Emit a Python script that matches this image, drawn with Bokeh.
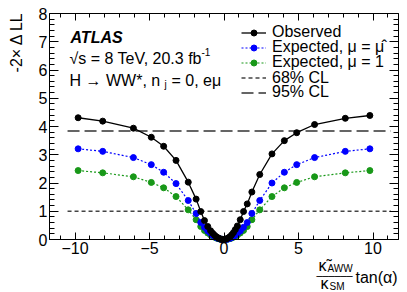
import math
from bokeh.plotting import figure
from bokeh.models import FixedTicker, LinearAxis, Label, Legend, LegendItem, Range1d
from bokeh.embed import file_html
from bokeh.resources import INLINE

# ---------------- data ----------------
x_grid = [-9.79, -8.14, -6.08, -4.88, -4.05, -3.22, -2.40, -1.87, -1.56, -1.31, -1.09,
          -0.90, -0.76, -0.63, -0.51, -0.40, -0.30, -0.20, -0.10, 0.0,
          0.10, 0.20, 0.30, 0.40, 0.51, 0.63, 0.76, 0.90,
          1.09, 1.31, 1.56, 1.87, 2.40, 3.22, 4.05, 4.88, 6.08, 8.14, 9.79]
observed = [4.31, 4.19, 3.94, 3.62, 3.30, 2.80, 2.03, 1.43, 0.99, 0.67, 0.46,
            0.31, 0.22, 0.15, 0.095, 0.06, 0.03, 0.012, 0.003, 0.0,
            0.008, 0.03, 0.06, 0.10, 0.16, 0.24, 0.35, 0.48,
            0.70, 0.99, 1.26, 1.68, 2.30, 3.03, 3.50, 3.78, 4.07, 4.29, 4.39]
expected_muhat = [3.21, 3.12, 2.90, 2.65, 2.38, 1.98, 1.38, 0.92, 0.60, 0.43, 0.30,
                  0.21, 0.15, 0.10, 0.068, 0.042, 0.024, 0.011, 0.003, 0.0,
                  0.003, 0.011, 0.024, 0.042, 0.068, 0.10, 0.15, 0.21,
                  0.30, 0.43, 0.60, 0.92, 1.38, 2.00, 2.38, 2.65, 2.90, 3.12, 3.21]
expected_mu1 = [2.44, 2.36, 2.22, 2.02, 1.83, 1.52, 1.05, 0.70, 0.46, 0.32, 0.23,
                0.16, 0.115, 0.08, 0.05, 0.03, 0.018, 0.008, 0.002, 0.0,
                0.002, 0.008, 0.018, 0.03, 0.05, 0.08, 0.115, 0.16,
                0.23, 0.32, 0.46, 0.70, 1.05, 1.52, 1.83, 2.02, 2.22, 2.36, 2.44]
cl_x = [-10.5, 11.2]
cl68_y = [1.0, 1.0]
cl95_y = [3.84, 3.84]

x_ticks = [-10, -5, 0, 5, 10]
x_tick_labels = ["\u221210", "\u22125", "0", "5", "10"]
x_minor = list(range(-11, 12))
y_ticks = [0, 1, 2, 3, 4, 5, 6, 7, 8]
y_tick_labels = [str(t) for t in y_ticks]
y_minor = [i / 5 for i in range(0, 41)]

# ---------------- geometry ----------------
W, H = 407, 292
PX0, SX = 223.5, 14.9      # page px of x=0, px per unit
PY0, SY = 239.0, 28.25     # page px of y=0, px per unit
XB0, XB1, YB0, YB1 = -11.71, 11.71, 0.0, 8.0   # plot box

def X(px):
    return (px - PX0) / SX

def Y(py):
    return (PY0 - py) / SY

FONT = "Liberation Sans"
FS = 16

p = figure(width=W, height=H, output_backend="svg", toolbar_location=None,
           x_range=Range1d(X(0), X(W)), y_range=Range1d(Y(H), Y(0)),
           min_border=0, min_border_left=0, min_border_right=0,
           min_border_top=0, min_border_bottom=0)
p.xgrid.visible = False
p.ygrid.visible = False
p.outline_line_color = None
p.background_fill_color = "white"
p.border_fill_color = "white"

def style_axis(ax, major_len, minor_len, ticks, labels):
    ax.axis_line_color = "black"
    ax.axis_line_width = 1
    ax.major_tick_line_color = "black"
    ax.minor_tick_line_color = "black"
    ax.major_tick_in = major_len
    ax.major_tick_out = 0
    ax.minor_tick_in = minor_len
    ax.minor_tick_out = 0
    ax.major_label_text_font = FONT
    ax.major_label_text_color = "black"
    ax.major_label_text_font_size = f"{FS}px"
    ax.major_label_standoff = 2
    ax.major_label_overrides = {t: l for t, l in zip(ticks, labels)}

bottom = p.xaxis[0]
bottom.ticker = FixedTicker(ticks=x_ticks, minor_ticks=x_minor)
bottom.fixed_location = YB0
bottom.bounds = (XB0, XB1)
style_axis(bottom, 7, 4, x_ticks, x_tick_labels)

left = p.yaxis[0]
left.ticker = FixedTicker(ticks=y_ticks, minor_ticks=y_minor)
left.fixed_location = XB0
left.bounds = (YB0, YB1)
style_axis(left, 9, 5, y_ticks, y_tick_labels)

top = LinearAxis(ticker=FixedTicker(ticks=x_ticks, minor_ticks=x_minor),
                 fixed_location=YB1, bounds=(XB0, XB1))
style_axis(top, 7, 4, x_ticks, [""] * len(x_ticks))
p.add_layout(top, "above")
right = LinearAxis(ticker=FixedTicker(ticks=y_ticks, minor_ticks=y_minor),
                   fixed_location=XB1, bounds=(YB0, YB1))
style_axis(right, 9, 5, y_ticks, [""] * len(y_ticks))
p.add_layout(right, "right")

# ---------------- curves ----------------
r68 = p.line(cl_x, cl68_y, line_color="#444444", line_width=1.3, line_dash="4 3")
r95 = p.line(cl_x, cl95_y, line_color="#333333", line_width=1.5, line_dash="12 5")

GREEN = "#189818"
BLUE = "#0000ff"
MS = 6
rg_l = p.line(x_grid, expected_mu1, line_color=GREEN, line_width=1.2, line_dash="2 2")
rg_p = p.scatter(x_grid, expected_mu1, size=MS, fill_color=GREEN, line_color=GREEN)
rb_l = p.line(x_grid, expected_muhat, line_color=BLUE, line_width=1.2, line_dash="2 2")
rb_p = p.scatter(x_grid, expected_muhat, size=MS, fill_color=BLUE, line_color=BLUE)
ro_l = p.line(x_grid, observed, line_color="black", line_width=1.3)
ro_p = p.scatter(x_grid, observed, size=MS, fill_color="black", line_color="black")

# ---------------- legend (one row per Legend for exact spacing) ----------------
entries = [
    ("Observed", [ro_l, ro_p], 30),
    ("Expected, \u03bc = \u03bc\u0302", [rb_l, rb_p], 45),
    ("Expected, \u03bc = 1", [rg_l, rg_p], 60),
    ("68% CL", [r68], 75.5),
    ("95% CL", [r95], 90),
]
ROW = 15
LEG_H = 18.5   # rendered height of one legend row (text height dominates)
for lab, rends, cy in entries:
    lg = Legend(items=[LegendItem(label=lab, renderers=rends)])
    lg.label_text_font = FONT
    lg.label_text_font_size = f"{FS}px"
    lg.label_text_color = "black"
    lg.label_height = ROW
    lg.glyph_height = ROW
    lg.glyph_width = 25
    lg.label_standoff = 6
    lg.spacing = 0
    lg.padding = 0
    lg.margin = 0
    lg.border_line_alpha = 0
    lg.background_fill_alpha = 0
    lg.location = (241, H - (cy - ROW / 2) - LEG_H)
    p.add_layout(lg)

# ---------------- texts ----------------
def txt(s, px, py, size, style="normal", align="left", baseline="alphabetic",
        angle=0.0, font=FONT):
    p.add_layout(Label(x=X(px), y=Y(py), text=s, text_font=font,
                       text_font_size=f"{size}px", text_font_style=style,
                       text_align=align, text_baseline=baseline, angle=angle,
                       text_color="black"))

txt("ATLAS", 70, 37, 16, style="bold italic")
txt("\u221as = 8 TeV, 20.3 fb", 69, 58, FS)
txt("-1", 201, 51, 10)
txt("H \u2192 WW*, n", 69, 80, FS)
txt("j", 164, 84, 10)
txt("= 0, e\u03bc", 171, 80, FS)

txt("-2\u00d7 \u0394 LL", 16, 11, FS, align="right", baseline="middle", angle=math.pi / 2)

txt("\u03ba\u0303", 318, 265, FS)
txt("AWW", 327, 268, 10)
txt("\u2500" * 6, 316, 276, 10, baseline="middle", font="DejaVu Sans Mono")
txt("\u03ba", 320, 283, FS)
txt("SM", 329, 286, 10)
txt("tan(\u03b1)", 355, 277, FS)

open("out.html", "w").write(file_html(p, INLINE))
